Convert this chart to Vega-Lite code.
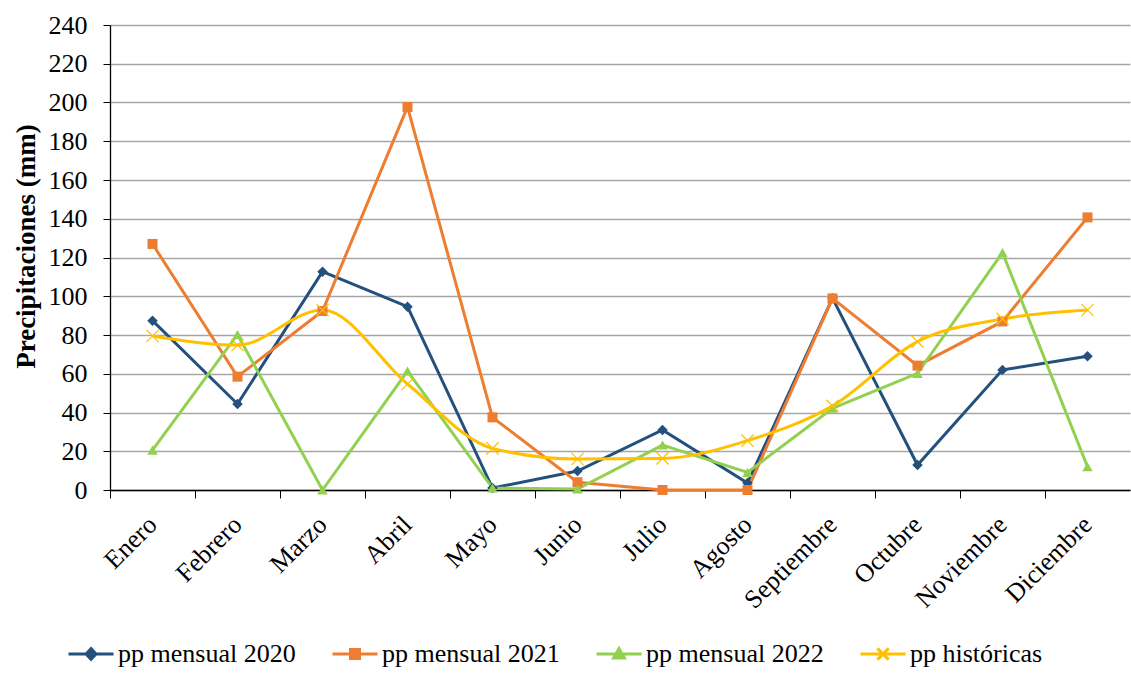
{
  "$schema": "https://vega.github.io/schema/vega-lite/v6.json",
  "width": 1020,
  "height": 465,
  "autosize": "none",
  "padding": {"left": 110, "top": 25, "right": 1, "bottom": 183},
  "background": "white",
  "config": {
    "font": "Liberation Serif",
    "view": {"stroke": null},
    "text": {"font": "Liberation Serif"},
    "axis": {"labelColor": "black", "titleColor": "black", "domainColor": "black", "tickColor": "black", "labelFont": "Liberation Serif", "titleFont": "Liberation Serif"},
    "legend": {"title": null, "orient": "none", "direction": "horizontal", "legendX": -43, "legendY": 605, "labelFontSize": 26, "labelColor": "black", "labelFont": "Liberation Serif", "labelLimit": 0, "symbolSize": 2025, "symbolStrokeWidth": 3, "columnPadding": 30, "labelOffset": 3}
  },
  "data": {
    "values": [
      {"mes": "Enero", "serie": "pp mensual 2020", "pp": 87.4},
      {"mes": "Febrero", "serie": "pp mensual 2020", "pp": 44.4},
      {"mes": "Marzo", "serie": "pp mensual 2020", "pp": 112.7},
      {"mes": "Abril", "serie": "pp mensual 2020", "pp": 94.6},
      {"mes": "Mayo", "serie": "pp mensual 2020", "pp": 1},
      {"mes": "Junio", "serie": "pp mensual 2020", "pp": 9.8},
      {"mes": "Julio", "serie": "pp mensual 2020", "pp": 31},
      {"mes": "Agosto", "serie": "pp mensual 2020", "pp": 3.6},
      {"mes": "Septiembre", "serie": "pp mensual 2020", "pp": 99},
      {"mes": "Octubre", "serie": "pp mensual 2020", "pp": 12.9},
      {"mes": "Noviembre", "serie": "pp mensual 2020", "pp": 62},
      {"mes": "Diciembre", "serie": "pp mensual 2020", "pp": 69},
      {"mes": "Enero", "serie": "pp mensual 2021", "pp": 127},
      {"mes": "Febrero", "serie": "pp mensual 2021", "pp": 58.5},
      {"mes": "Marzo", "serie": "pp mensual 2021", "pp": 92.4},
      {"mes": "Abril", "serie": "pp mensual 2021", "pp": 197.7},
      {"mes": "Mayo", "serie": "pp mensual 2021", "pp": 37.5},
      {"mes": "Junio", "serie": "pp mensual 2021", "pp": 4},
      {"mes": "Julio", "serie": "pp mensual 2021", "pp": 0},
      {"mes": "Agosto", "serie": "pp mensual 2021", "pp": 0},
      {"mes": "Septiembre", "serie": "pp mensual 2021", "pp": 98.9},
      {"mes": "Octubre", "serie": "pp mensual 2021", "pp": 64.2},
      {"mes": "Noviembre", "serie": "pp mensual 2021", "pp": 87},
      {"mes": "Diciembre", "serie": "pp mensual 2021", "pp": 140.7},
      {"mes": "Enero", "serie": "pp mensual 2022", "pp": 20.6},
      {"mes": "Febrero", "serie": "pp mensual 2022", "pp": 80.3},
      {"mes": "Marzo", "serie": "pp mensual 2022", "pp": 0},
      {"mes": "Abril", "serie": "pp mensual 2022", "pp": 61.4},
      {"mes": "Mayo", "serie": "pp mensual 2022", "pp": 1},
      {"mes": "Junio", "serie": "pp mensual 2022", "pp": 0.5},
      {"mes": "Julio", "serie": "pp mensual 2022", "pp": 23.2},
      {"mes": "Agosto", "serie": "pp mensual 2022", "pp": 9.1},
      {"mes": "Septiembre", "serie": "pp mensual 2022", "pp": 42.2},
      {"mes": "Octubre", "serie": "pp mensual 2022", "pp": 60.2},
      {"mes": "Noviembre", "serie": "pp mensual 2022", "pp": 122.5},
      {"mes": "Diciembre", "serie": "pp mensual 2022", "pp": 12},
      {"mes": "Enero", "serie": "pp históricas", "pp": 79.5},
      {"mes": "Febrero", "serie": "pp históricas", "pp": 74.8},
      {"mes": "Marzo", "serie": "pp históricas", "pp": 92.9},
      {"mes": "Abril", "serie": "pp históricas", "pp": 54.7},
      {"mes": "Mayo", "serie": "pp históricas", "pp": 21.5},
      {"mes": "Junio", "serie": "pp históricas", "pp": 16},
      {"mes": "Julio", "serie": "pp históricas", "pp": 16.3},
      {"mes": "Agosto", "serie": "pp históricas", "pp": 25.5},
      {"mes": "Septiembre", "serie": "pp históricas", "pp": 43.4},
      {"mes": "Octubre", "serie": "pp históricas", "pp": 76.6},
      {"mes": "Noviembre", "serie": "pp históricas", "pp": 88.3},
      {"mes": "Diciembre", "serie": "pp históricas", "pp": 92.9}
    ]
  },
  "encoding": {
    "x": {
      "field": "mes", "type": "nominal",
      "sort": ["Enero", "Febrero", "Marzo", "Abril", "Mayo", "Junio", "Julio", "Agosto", "Septiembre", "Octubre", "Noviembre", "Diciembre"],
      "scale": {"type": "band", "paddingInner": 0, "paddingOuter": 0},
      "axis": null
    },
    "y": {
      "field": "pp",
      "type": "quantitative",
      "scale": {"domain": [0, 240], "nice": false},
      "axis": {
        "values": [0, 20, 40, 60, 80, 100, 120, 140, 160, 180, 200, 220, 240],
        "title": "Precipitaciones (mm)",
        "titleFontSize": 27,
        "titleFontWeight": "bold",
        "titlePadding": 8,
        "titleY": 221,
        "labelFont": "Liberation Serif",
        "titleFont": "Liberation Serif",
        "labelFontSize": 26,
        "labelPadding": 16,
        "tickSize": 7,
        "gridColor": "#a6a6a6",
        "gridWidth": 1.3,
        "domainWidth": 1.3
      }
    },
    "color": {
      "field": "serie", "type": "nominal",
      "scale": {"domain": ["pp mensual 2020", "pp mensual 2021", "pp mensual 2022", "pp históricas"], "range": ["#23507c", "#ed7d31", "#92d050", "#ffc000"]},
      "legend": {"labelFont": "Liberation Serif", "labelFontSize": 26}
    }
  },
  "resolve": {"axis": {"x": "independent"}},
  "layer": [
    {
      "transform": [{"filter": "datum.serie != 'pp históricas'"}],
      "mark": {"type": "line", "strokeWidth": 3},
      "encoding": {
        "x": {
          "field": "mes", "type": "nominal",
          "sort": ["Enero", "Febrero", "Marzo", "Abril", "Mayo", "Junio", "Julio", "Agosto", "Septiembre", "Octubre", "Noviembre", "Diciembre"],
          "scale": {"type": "band", "paddingInner": 0, "paddingOuter": 0},
          "axis": {"orient": "bottom", "bandPosition": 0, "labels": false, "ticks": true, "tickSize": 8, "domain": true, "domainWidth": 1.3, "grid": false, "title": null}
        }
      }
    },
    {
      "transform": [{"filter": "datum.serie == 'pp históricas'"}],
      "mark": {"type": "line", "strokeWidth": 3, "interpolate": "monotone"},
      "encoding": {
        "x": {
          "field": "mes", "type": "nominal",
          "sort": ["Enero", "Febrero", "Marzo", "Abril", "Mayo", "Junio", "Julio", "Agosto", "Septiembre", "Octubre", "Noviembre", "Diciembre"],
          "scale": {"type": "band", "paddingInner": 0, "paddingOuter": 0},
          "axis": {"orient": "bottom", "labels": true, "ticks": false, "domain": false, "grid": false, "title": null, "labelAngle": -45, "labelFont": "Liberation Serif", "labelFontSize": 26, "labelPadding": 21, "labelOffset": -9}
        }
      }
    },
    {
      "transform": [{"filter": "datum.serie == 'pp mensual 2020'"}],
      "mark": {"type": "point", "filled": true, "size": 110, "opacity": 1, "shape": "diamond"}
    },
    {
      "transform": [{"filter": "datum.serie == 'pp mensual 2021'"}],
      "mark": {"type": "point", "filled": true, "size": 100, "opacity": 1, "shape": "square"}
    },
    {
      "transform": [{"filter": "datum.serie == 'pp mensual 2022'"}],
      "mark": {"type": "point", "filled": true, "size": 110, "opacity": 1, "shape": "triangle-up"}
    },
    {
      "transform": [{"filter": "datum.serie == 'pp históricas'"}],
      "mark": {"type": "point", "filled": false, "size": 150, "opacity": 1, "strokeWidth": 1.2, "shape": "M-1,-1L1,1M-1,1L1,-1"}
    },
    {
      "transform": [{"filter": "false"}],
      "mark": {"type": "point", "filled": false, "opacity": 1, "strokeWidth": 3},
      "encoding": {
        "shape": {
          "field": "serie", "type": "nominal",
          "scale": {
            "domain": ["pp mensual 2020", "pp mensual 2021", "pp mensual 2022", "pp históricas"],
            "range": ["M-1,0L1,0M0,-0.24L0.22,0L0,0.24L-0.22,0Z", "M-1,0L1,0M-0.2,-0.2L0.2,-0.2L0.2,0.2L-0.2,0.2Z", "M-1,0L1,0M0,-0.24L0.24,0.18L-0.24,0.18Z", "M-1,0L1,0M-0.25,-0.25L0.25,0.25M-0.25,0.25L0.25,-0.25"]
          },
          "legend": {"labelFont": "Liberation Serif", "labelFontSize": 26}
        },
        "fill": {
          "field": "serie", "type": "nominal",
          "scale": {"domain": ["pp mensual 2020", "pp mensual 2021", "pp mensual 2022", "pp históricas"], "range": ["#23507c", "#ed7d31", "#92d050", "#ffc000"]},
          "legend": {"labelFont": "Liberation Serif", "labelFontSize": 26}
        }
      }
    }
  ]
}
